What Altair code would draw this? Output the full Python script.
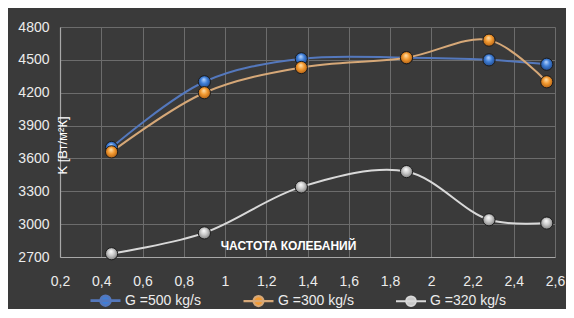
import altair as alt
import pandas as pd

# ---- data ----
freq = [0.45, 0.9, 1.37, 1.88, 2.28, 2.56]
g500 = [3700, 4300, 4510, 4520, 4500, 4460]
g300 = [3660, 4200, 4430, 4520, 4680, 4300]
g320 = [2730, 2920, 3340, 3480, 3040, 3010]
series = ["G =500 kg/s", "G =300 kg/s", "G =320 kg/s"]
x_ticks = [0.2, 0.4, 0.6, 0.8, 1.0, 1.2, 1.4, 1.6, 1.8, 2.0, 2.2, 2.4, 2.6]
y_ticks = [2700, 3000, 3300, 3600, 3900, 4200, 4500, 4800]

line_colors = ["#5478bd", "#d6a878", "#d9d9d9"]
line_widths = [2.6, 1.8, 1.8]
marker_colors = ["#3f7fd8", "#f39a30", "#c9c9c9"]
marker_light = ["#bcd8ff", "#ffe2b0", "#ffffff"]
marker_dark = ["#1d3f7a", "#a0520e", "#6e6e6e"]

rows = []
for name, vals in zip(series, [g500, g300, g320]):
    for f, v in zip(freq, vals):
        rows.append({"f": f, "k": v, "s": name})
df = pd.DataFrame(rows)

FONT = "Liberation Sans, sans-serif"
TXT = "#ececec"

x_enc = alt.X(
    "f:Q",
    scale=alt.Scale(domain=[0.2, 2.6], nice=False, zero=False),
    axis=alt.Axis(
        values=x_ticks, labelOverlap=False, labelFlush=False, labelBound=False,
        labelExpr="replace(format(datum.value, '.1~f'), '.', ',')",
        title="ЧАСТОТА КОЛЕБАНИЙ",
        titleX=228, titleY=-12, titleAnchor="start", titleAlign="center",
        titleBaseline="middle",
        titleFontWeight="bold", titleFontSize=12, titleColor="#ffffff", titleFont=FONT,
        labelColor=TXT, labelFontSize=14, labelFont=FONT, labelPadding=17,
        tickSize=0, domainColor="#a8a8a8", domainWidth=1.2,
        gridColor="#6c6c6c", gridWidth=1,
    ),
)
y_enc = alt.Y(
    "k:Q",
    scale=alt.Scale(domain=[2700, 4800], nice=False, zero=False),
    axis=alt.Axis(
        values=y_ticks, format="d", labelOverlap=False, labelFlush=False, labelBound=False,
        title="K [Вт/м²К]",
        titleX=2, titleY=118, titleAngle=270, titleAlign="center", titleBaseline="middle",
        titleFontWeight="normal", titleFontSize=13, titleColor="#ffffff", titleFont=FONT,
        labelColor=TXT, labelFontSize=14, labelFont=FONT, labelPadding=11,
        tickSize=0, domainColor="#a8a8a8", domainWidth=1.2,
        gridColor="#6c6c6c", gridWidth=1,
    ),
)

sym = "M-1,0H1M-0.33,0A0.33,0.33 0 1,0 0.33,0A0.33,0.33 0 1,0 -0.33,0Z"
leg = alt.Legend(
    title=None, orient="none", legendX=29, legendY=257, direction="horizontal",
    symbolType=sym, symbolSize=900, symbolStrokeWidth=2,
    labelColor=TXT, labelFontSize=14, labelFont=FONT, labelOffset=3,
    columnPadding=38, padding=0,
)

stroke_enc = alt.Stroke("s:N", scale=alt.Scale(domain=series, range=line_colors), legend=leg)
fill_enc = alt.Fill("s:N", scale=alt.Scale(domain=series, range=marker_colors), legend=leg)

base = alt.Chart(df)

lines = base.mark_line(interpolate="catmull-rom", strokeWidth=2).encode(
    x=x_enc, y=y_enc, stroke=stroke_enc, detail="s:N",
    strokeWidth=alt.StrokeWidth("s:N", scale=alt.Scale(domain=series, range=line_widths), legend=None),
    order=alt.Order("f:Q"),
)
legend_pts = base.mark_point(shape="circle", filled=True, size=10, opacity=1).encode(
    x=x_enc, y=y_enc, fill=fill_enc, stroke=stroke_enc,
)

layers = [lines, legend_pts]
for i, name in enumerate(series):
    grad = alt.RadialGradient(
        gradient="radial",
        stops=[
            alt.GradientStop(offset=0, color=marker_light[i]),
            alt.GradientStop(offset=0.45, color=marker_colors[i]),
            alt.GradientStop(offset=1, color=marker_dark[i]),
        ],
        x1=0.45, y1=0.3, r1=0, x2=0.5, y2=0.5, r2=0.6,
    )
    pts = alt.Chart(df[df["s"] == name]).mark_point(
        shape="circle", filled=True, size=150, fill=grad, opacity=1,
        stroke="#1c1c1c", strokeWidth=1, strokeOpacity=1,
    ).encode(x=x_enc, y=y_enc)
    layers.append(pts)

chart = alt.layer(*layers).properties(
    width=495, height=230,
    autosize=alt.AutoSizeParams(type="none"),
    padding={"left": 52, "top": 19, "right": 11, "bottom": 52},
    background="#3a3a3a",
).configure_view(strokeWidth=0).configure_axis(grid=True, labelOverlap=False)

chart.save("out.html", embed_options={"renderer": "svg", "actions": False})
